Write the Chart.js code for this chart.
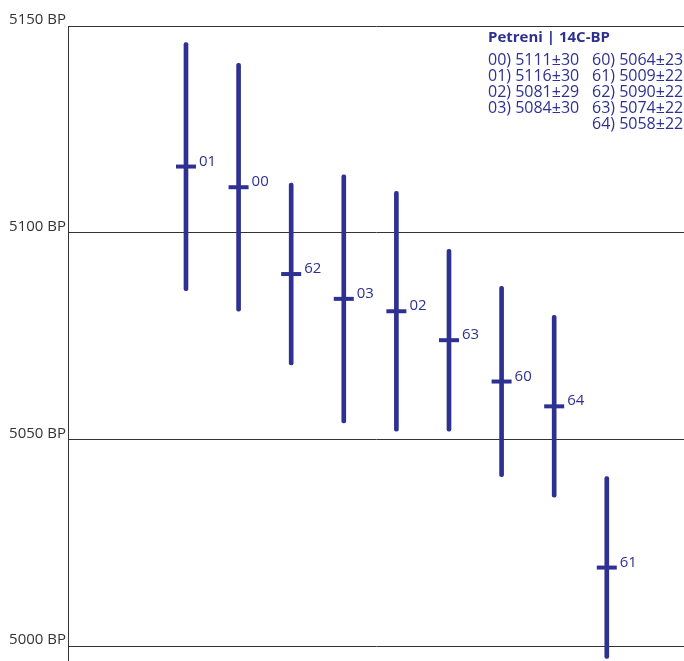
<!DOCTYPE html>
<html>
<head>
<meta charset="utf-8">
<script src="https://cdn.jsdelivr.net/npm/chart.js@4/dist/chart.umd.min.js"></script>
<style>
  html, body { margin: 0; padding: 0; background: #fff; }
  #wrap { width: 684px; height: 661px; }
</style>
</head>
<body>
<div id="wrap"><canvas id="chart" width="684" height="661"></canvas></div>
<script>
// samples in the order they are plotted, left to right
const samples = ['01', '00', '62', '03', '02', '63', '60', '64', '61'];
// mean ages (BP) as plotted
const means = [5116, 5111, 5090, 5084, 5081, 5074, 5064, 5058, 5019];
// one sigma errors
const errors = [30, 30, 22, 30, 29, 22, 23, 22, 22];
// y axis ticks
const yTicks = [5000, 5050, 5100, 5150];
// legend text box
const legendTitle = 'Petreni | 14C-BP';
const legendCol1 = ['00) 5111\u00b130', '01) 5116\u00b130', '02) 5081\u00b129', '03) 5084\u00b130'];
const legendCol2 = ['60) 5064\u00b123', '61) 5009\u00b122', '62) 5090\u00b122', '63) 5074\u00b122', '64) 5058\u00b122'];

const blue = '#2e3192';
const grey = '#333333';
const font = '"Open Sans", "Noto Sans", sans-serif';

// floating bars for the error ranges, line points for the means
const rangeData = samples.map((s, i) => ({ x: i, y: [means[i] - errors[i], means[i] + errors[i]] }));
const meanData = samples.map((s, i) => ({ x: i, y: means[i] }));

// sample numbers next to each mean + text box top right
const labelPlugin = {
  id: 'labels',
  afterDatasetsDraw(chart) {
    const ctx = chart.ctx;
    const meta = chart.getDatasetMeta(1);
    ctx.save();
    ctx.fillStyle = blue;
    ctx.font = '15px ' + font;
    ctx.textAlign = 'left';
    ctx.textBaseline = 'alphabetic';
    meta.data.forEach((pt, i) => {
      ctx.fillText(samples[i], pt.x + 13, pt.y - 1);
    });
    // legend box
    ctx.font = 'bold 15px ' + font;
    ctx.fillText(legendTitle, 488, 42);
    ctx.font = '16px ' + font;
    legendCol1.forEach((t, i) => ctx.fillText(t, 488, 65 + i * 16));
    legendCol2.forEach((t, i) => ctx.fillText(t, 592, 65 + i * 16));
    ctx.restore();
  }
};

new Chart(document.getElementById('chart').getContext('2d'), {
  data: {
    datasets: [
      {
        type: 'bar',
        data: rangeData,
        backgroundColor: blue,
        borderWidth: 0,
        barThickness: 4,
        borderRadius: 2,
        borderSkipped: false
      },
      {
        type: 'scatter',
        data: meanData,
        pointStyle: 'line',
        pointRadius: 10,
        pointBorderWidth: 4,
        pointBorderColor: blue,
        pointBackgroundColor: blue
      }
    ]
  },
  options: {
    responsive: false,
    animation: false,
    events: [],
    layout: { autoPadding: false, padding: { top: 26, right: 0, bottom: 0, left: 0 } },
    plugins: { legend: { display: false }, tooltip: { enabled: false } },
    scales: {
      x: {
        type: 'linear',
        display: false,
        offset: false,
        min: -2.243,
        max: 9.468
      },
      y: {
        min: 4996.4,
        max: 5150,
        afterBuildTicks(scale) {
          scale.ticks = yTicks.map(v => ({ value: v }));
        },
        afterFit(scale) {
          scale.width = 68;
          scale.paddingTop = 0;
          scale.paddingBottom = 0;
        },
        border: { color: grey, width: 1 },
        grid: { color: grey, lineWidth: 1, drawTicks: false },
        ticks: {
          color: grey,
          font: { family: font, size: 15 },
          padding: 2,
          labelOffset: -6,
          callback: v => v + ' BP'
        }
      }
    }
  },
  plugins: [labelPlugin]
});
</script>
</body>
</html>
